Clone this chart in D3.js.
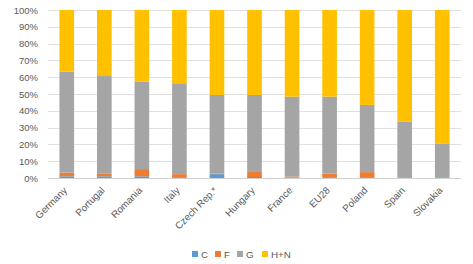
<!DOCTYPE html>
<html>
<head>
<meta charset="utf-8">
<script src="https://cdn.jsdelivr.net/npm/d3@7"></script>
<style>
  body { margin: 0; background: #fff; }
  text { font-family: "Liberation Sans", Arial, sans-serif; fill: #595959; }
</style>
</head>
<body>
<div id="chart"></div>
<script>
// data (percent shares)
const countries = ["Germany", "Portugal", "Romania", "Italy", "Czech Rep.*", "Hungary", "France", "EU28", "Poland", "Spain", "Slovakia"];
const seriesKeys = ["C", "F", "G", "H+N"];
const valC  = [1.0, 1.0, 1.0, 0.5, 2.3, 0.6, 0.3, 0.5, 0.5, 0.4, 0.4];
const valF  = [2.2, 1.5, 4.3, 1.8, 0.3, 3.0, 0.6, 2.2, 3.0, 0.1, 0.1];
const valG  = [60.1, 58.2, 52.0, 54.1, 46.8, 45.8, 47.5, 45.7, 40.0, 33.0, 20.1];
const valHN = [36.7, 39.3, 42.7, 43.6, 50.6, 50.6, 51.6, 51.6, 56.5, 66.5, 79.4];
const yTicks = [0, 10, 20, 30, 40, 50, 60, 70, 80, 90, 100];
const colors = ["#5B9BD5", "#ED7D31", "#A5A5A5", "#FFC000"];

const W = 473, H = 264;
const margin = { top: 10, right: 12, bottom: 86, left: 48 };
const width = W - margin.left - margin.right;
const height = H - margin.top - margin.bottom;

const rows = countries.map((c, i) => ({ country: c, "C": valC[i], "F": valF[i], "G": valG[i], "H+N": valHN[i] }));
const stacked = d3.stack().keys(seriesKeys)(rows);

const svg = d3.select("#chart").append("svg")
    .attr("width", W)
    .attr("height", H);
const g = svg.append("g")
    .attr("transform", `translate(${margin.left},${margin.top})`);

const x = d3.scaleBand()
    .domain(countries)
    .range([0, width])
    .paddingInner(0.61)
    .paddingOuter(0.305);
const y = d3.scaleLinear()
    .domain([0, 100])
    .range([height, 0]);
const color = d3.scaleOrdinal().domain(seriesKeys).range(colors);

// gridlines
g.selectAll(".grid")
    .data(yTicks)
    .enter().append("line")
    .attr("class", "grid")
    .attr("x1", 0).attr("x2", width)
    .attr("y1", d => Math.round(y(d)) + 0.5)
    .attr("y2", d => Math.round(y(d)) + 0.5)
    .attr("stroke", d => d === 0 ? "#d0d0d0" : "#e0e0e0")
    .attr("stroke-width", 1);

// y axis labels
const yAxis = g.append("g")
    .call(d3.axisLeft(y).tickValues(yTicks).tickFormat(d => d + "%").tickSize(0).tickPadding(10));
yAxis.select(".domain").remove();
yAxis.selectAll("text").style("font-size", "9.5px").attr("fill", "#595959");

// bars
g.selectAll(".layer")
    .data(stacked)
    .enter().append("g")
    .attr("class", "layer")
    .attr("fill", d => color(d.key))
    .selectAll("rect")
    .data(d => d)
    .enter().append("rect")
    .attr("x", d => x(d.data.country))
    .attr("y", d => y(d[1]))
    .attr("height", d => y(d[0]) - y(d[1]))
    .attr("width", x.bandwidth());

// x axis labels
const xAxis = g.append("g")
    .attr("transform", `translate(0,${height})`)
    .call(d3.axisBottom(x).tickSize(0).tickPadding(0));
xAxis.select(".domain").remove();
xAxis.selectAll("text")
    .style("font-size", "9.8px")
    .attr("fill", "#595959")
    .style("text-anchor", "end")
    .attr("dx", "0")
    .attr("dy", "0")
    .attr("transform", "translate(1,13) rotate(-45)");

// legend
const legendX = [192, 215, 237, 262];
const legend = svg.selectAll(".legend")
    .data(seriesKeys)
    .enter().append("g")
    .attr("class", "legend")
    .attr("transform", (d, i) => `translate(${legendX[i]},251)`);
legend.append("rect")
    .attr("width", 6).attr("height", 6)
    .attr("fill", d => color(d));
legend.append("text")
    .attr("x", 9).attr("y", 6.5)
    .style("font-size", "9.8px")
    .text(d => d);
</script>
</body>
</html>
